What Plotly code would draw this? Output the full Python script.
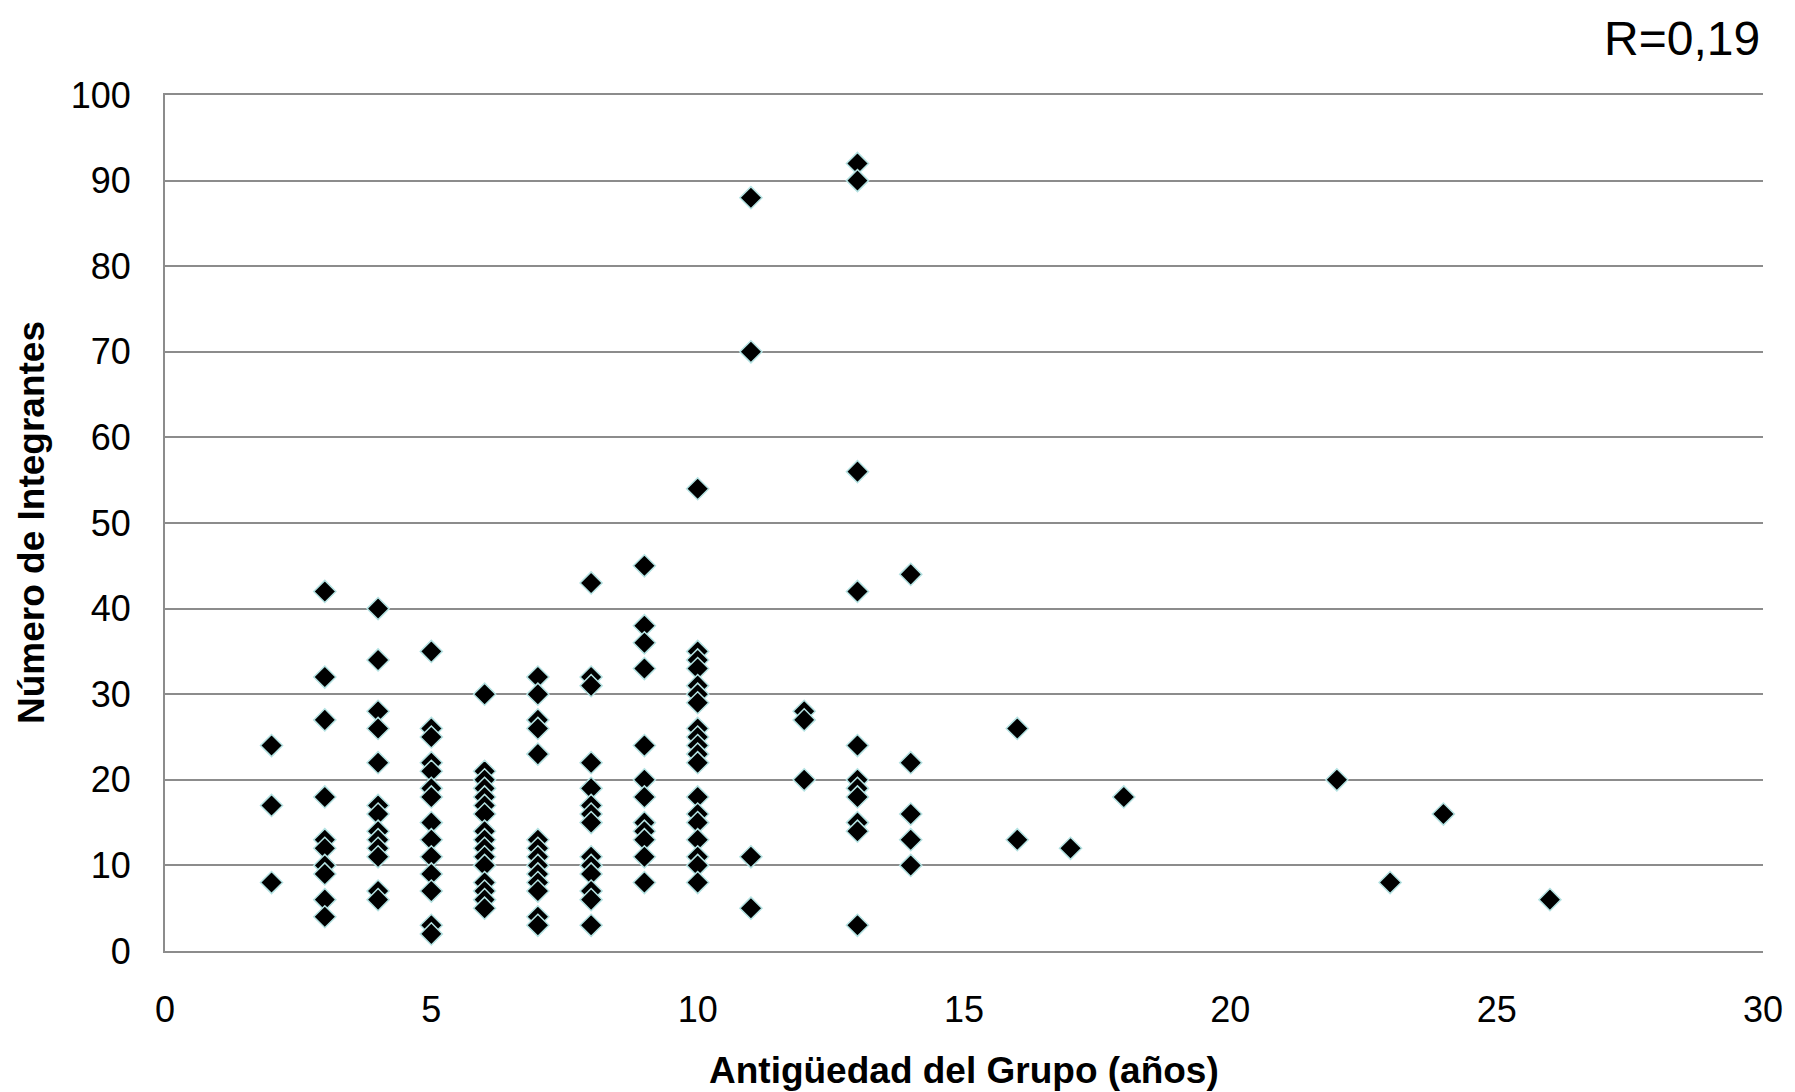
import plotly.graph_objects as go

# Antigüedad del grupo (años) and the members observed at each one
antiguedad_anos = [2, 3, 4, 5, 6, 7, 8, 9, 10, 11, 12, 13, 14, 16, 17, 18, 22, 23, 24, 26]
integrantes_por_antiguedad = [
    [24, 17, 8],
    [42, 32, 27, 18, 13, 12, 10, 9, 6, 4],
    [40, 34, 28, 26, 22, 17, 16, 14, 13, 12, 11, 7, 6],
    [35, 26, 25, 22, 21, 19, 18, 15, 13, 11, 9, 7, 3, 2],
    [30, 21, 20, 19, 18, 17, 16, 14, 13, 12, 11, 10, 8, 7, 6, 5],
    [32, 30, 27, 26, 23, 13, 12, 11, 10, 9, 8, 7, 4, 3],
    [43, 32, 31, 22, 19, 17, 16, 15, 11, 10, 9, 7, 6, 3],
    [45, 38, 36, 33, 24, 20, 18, 15, 14, 13, 11, 8],
    [54, 35, 34, 33, 31, 30, 29, 26, 25, 24, 23, 22, 18, 16, 15, 13, 11, 10, 8],
    [88, 70, 11, 5],
    [28, 27, 20],
    [92, 90, 56, 42, 24, 20, 19, 18, 15, 14, 3],
    [44, 22, 16, 13, 10],
    [26, 13],
    [12],
    [18],
    [20],
    [8],
    [16],
    [6],
]

x_ticks = [0, 5, 10, 15, 20, 25, 30]
y_ticks = [0, 10, 20, 30, 40, 50, 60, 70, 80, 90, 100]
correlacion_texto = "R=0,19"

xs, ys = [], []
for a, vals in zip(antiguedad_anos, integrantes_por_antiguedad):
    for v in vals:
        xs.append(a)
        ys.append(v)

FONT = "Liberation Sans, Arial, sans-serif"
GRID = "#8c8c8c"

fig = go.Figure()
fig.add_trace(go.Scatter(
    x=xs, y=ys, mode="markers",
    marker=dict(symbol="diamond", size=17, color="black",
                line=dict(color="#b4e2e2", width=1.5)),
    showlegend=False, hoverinfo="x+y",
))

fig.update_layout(
    width=1787, height=1084,
    margin=dict(l=157, r=29, t=87, b=141),
    paper_bgcolor="white", plot_bgcolor="white",
    font=dict(family=FONT, color="black", size=36),
    xaxis=dict(
        range=[0, 30], tickvals=x_ticks, ticktext=[str(t) for t in x_ticks],
        showgrid=False, zeroline=False,
        showline=True, mirror=True, linecolor=GRID, linewidth=2,
        ticks="", ticklabelstandoff=26,
        tickfont=dict(size=36, family=FONT, color="black"),
    ),
    yaxis=dict(
        range=[0, 100], tickvals=y_ticks, ticktext=[str(t) for t in y_ticks],
        showgrid=True, gridcolor=GRID, gridwidth=2,
        zeroline=False, showline=True, linecolor=GRID, linewidth=2,
        ticks="", ticklabelstandoff=25,
        tickfont=dict(size=36, family=FONT, color="black"),
    ),
    annotations=[
        dict(text="<b>Antigüedad del Grupo (años)</b>", xref="paper", yref="paper",
             x=0.5, y=0, yshift=-119, xanchor="center", yanchor="middle",
             showarrow=False, font=dict(size=37, family=FONT, color="black")),
        dict(text="<b>Número de Integrantes</b>", xref="paper", yref="paper",
             x=0, y=0.5, xshift=-134, xanchor="center", yanchor="middle",
             textangle=-90, showarrow=False,
             font=dict(size=37, family=FONT, color="black")),
        dict(text=correlacion_texto, xref="paper", yref="paper",
             x=1, y=1, xshift=-1, yshift=57, xanchor="right", yanchor="middle",
             showarrow=False, font=dict(size=48, family=FONT, color="black")),
    ],
)

fig.write_html("out.html")
